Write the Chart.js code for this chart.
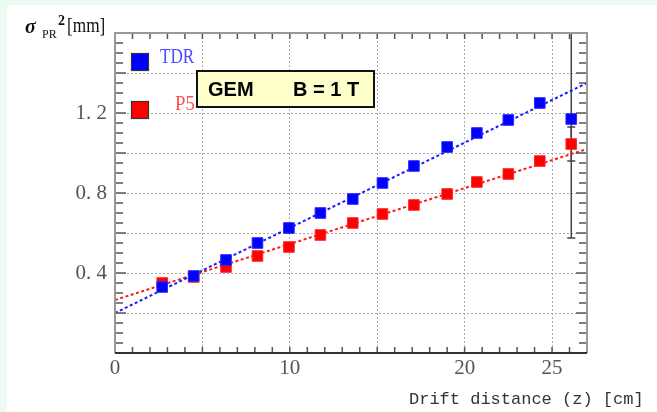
<!DOCTYPE html>
<html>
<head>
<meta charset="utf-8">
<script src="https://cdn.jsdelivr.net/npm/chart.js@4/dist/chart.umd.min.js"></script>
<style>
  html, body { margin: 0; padding: 0; background: #ecfaf1; }
  #wrap { position: absolute; left: 7px; top: 5px; width: 650px; height: 407px; background: #fff; }
</style>
</head>
<body>
<div id="wrap"><canvas id="myChart" width="650" height="407"></canvas></div>
<script>
// drift distance [cm] of each measured point
const drift = [2.7, 4.5, 6.35, 8.15, 9.95, 11.75, 13.6, 15.3, 17.1, 19.0, 20.7, 22.5, 24.3, 26.1];
// sigma_PR^2 [mm^2]
const tdr = [0.33, 0.385, 0.465, 0.55, 0.625, 0.70, 0.77, 0.85, 0.935, 1.03, 1.10, 1.165, 1.25, 1.17];
const p5 = [0.35, 0.38, 0.43, 0.485, 0.53, 0.59, 0.65, 0.695, 0.74, 0.795, 0.855, 0.895, 0.96, 1.045];
const tdrErr = [0, 0, 0, 0, 0, 0, 0, 0, 0, 0, 0, 0, 0, 0.595];
const p5Err = [0, 0, 0, 0, 0, 0, 0, 0, 0, 0, 0, 0, 0, 0.085];
// linear fits, end points
const fitX = [0, 27];
const tdrFit = [0.20, 1.35];
const p5Fit = [0.265, 1.02];
// grid positions and the ones that get a label
const xGrid = [0, 5, 10, 15, 20, 25];
const yGrid = [0, 0.2, 0.4, 0.6, 0.8, 1.0, 1.2, 1.4, 1.6];
const xLabels = [0, 10, 20, 25];
const yLabels = [0.4, 0.8, 1.2];

const toPts = (xs, ys) => xs.map((x, i) => ({ x: x, y: ys[i] }));

// error bars (kept inside the frame), minor ticks, frame, legend, titles
const decor = {
	id: "decor",
	beforeDatasetsDraw(chart) {
		const { ctx, chartArea: a, scales: { x, y } } = chart;
		const clampY = (v) => Math.min(a.bottom, Math.max(a.top, y.getPixelForValue(v)));
		ctx.save();
		ctx.strokeStyle = "#444";
		ctx.lineWidth = 1.5;
		[[tdr, tdrErr], [p5, p5Err]].forEach(([vals, errs]) => {
			errs.forEach((e, i) => {
				if (!e) return;
				const px = x.getPixelForValue(drift[i]);
				const lo = clampY(vals[i] - e);
				const hi = clampY(vals[i] + e);
				ctx.beginPath();
				ctx.moveTo(px, lo);
				ctx.lineTo(px, hi);
				if (lo < a.bottom) {
					ctx.moveTo(px - 4, lo);
					ctx.lineTo(px + 4, lo);
				}
				if (hi > a.top) {
					ctx.moveTo(px - 4, hi);
					ctx.lineTo(px + 4, hi);
				}
				ctx.stroke();
			});
		});
		ctx.restore();
	},
	afterDraw(chart) {
		const { ctx, chartArea: a, scales: { x, y } } = chart;
		ctx.save();
		ctx.lineWidth = 1.5;
		ctx.strokeStyle = "#555";
		for (let v = 1; v < 27; v++) {
			const px = x.getPixelForValue(v);
			ctx.beginPath();
			ctx.moveTo(px, a.bottom);
			ctx.lineTo(px, a.bottom - 6);
			ctx.moveTo(px, a.top);
			ctx.lineTo(px, a.top + 6);
			ctx.stroke();
		}
		for (let k = 1; k < 32; k++) {
			const py = y.getPixelForValue(k * 0.05);
			const len = k % 4 === 0 ? 11 : 8;
			ctx.beginPath();
			ctx.moveTo(a.left, py);
			ctx.lineTo(a.left + len, py);
			ctx.moveTo(a.right, py);
			ctx.lineTo(a.right - len, py);
			ctx.stroke();
		}
		// frame
		ctx.lineWidth = 2;
		ctx.strokeStyle = "#999";
		ctx.beginPath();
		ctx.moveTo(a.left, a.bottom);
		ctx.lineTo(a.left, a.top);
		ctx.lineTo(a.right, a.top);
		ctx.lineTo(a.right, a.bottom);
		ctx.stroke();
		ctx.strokeStyle = "#333";
		ctx.beginPath();
		ctx.moveTo(a.left, a.bottom);
		ctx.lineTo(a.right, a.bottom);
		ctx.stroke();

		// legend
		const sq = (cx, cy, col) => {
			ctx.fillStyle = col;
			ctx.fillRect(cx - 8.5, cy - 8.5, 17, 17);
			ctx.lineWidth = 1.2;
			ctx.strokeStyle = "#333";
			ctx.strokeRect(cx - 8.5, cy - 8.5, 17, 17);
		};
		sq(133, 57, "#0000ff");
		sq(133, 105, "#ff0000");
		ctx.textBaseline = "middle";
		ctx.textAlign = "left";
		ctx.font = "22px 'Liberation Serif'";
		ctx.save();
		ctx.translate(153, 52);
		ctx.scale(0.78, 1);
		ctx.fillStyle = "#4a4aff";
		ctx.fillText("TDR", 0, 0);
		ctx.restore();
		ctx.save();
		ctx.translate(168, 99);
		ctx.scale(0.85, 1);
		ctx.fillStyle = "#ff5050";
		ctx.fillText("P5", 0, 0);
		ctx.restore();

		// GEM box
		ctx.fillStyle = "#ffffcc";
		ctx.fillRect(190, 66, 177, 36);
		ctx.lineWidth = 2;
		ctx.strokeStyle = "#111";
		ctx.strokeRect(190, 66, 177, 36);
		ctx.fillStyle = "#000";
		ctx.font = "bold 20px 'Liberation Sans'";
		ctx.fillText("GEM", 201, 85);
		ctx.fillText("B = 1 T", 286, 85);

		// y title
		ctx.fillStyle = "#111";
		ctx.textBaseline = "alphabetic";
		ctx.font = "italic bold 20px 'Liberation Serif'";
		ctx.fillText("\u03c3", 18, 28);
		ctx.font = "12px 'Liberation Serif'";
		ctx.fillText("PR", 35, 33);
		ctx.font = "bold 14px 'Liberation Serif'";
		ctx.fillText("2", 51, 20);
		ctx.save();
		ctx.translate(60, 27);
		ctx.scale(0.82, 1);
		ctx.font = "21px 'Liberation Serif'";
		ctx.fillText("[mm]", 0, 0);
		ctx.restore();

		// x title
		ctx.fillStyle = "#333";
		ctx.textBaseline = "middle";
		ctx.font = "17px 'Liberation Mono'";
		ctx.fillText("Drift distance (z) [cm]", 402, 394);
		ctx.restore();
	},
};

const myChart = new Chart(document.getElementById("myChart"), {
	type: "scatter",
	data: {
		datasets: [
			{
				label: "TDR",
				data: toPts(drift, tdr),
				backgroundColor: "#0000ff",
				borderColor: "#2a2aff",
				pointStyle: "rect",
				pointRadius: 7.5,
				borderWidth: 1,
				order: 0,
			},
			{
				label: "P5",
				data: toPts(drift, p5),
				backgroundColor: "#ff0000",
				borderColor: "#ff2a2a",
				pointStyle: "rect",
				pointRadius: 7.5,
				borderWidth: 1,
				order: 1,
			},
			{
				label: "TDR fit",
				data: toPts(fitX, tdrFit),
				showLine: true,
				pointRadius: 0,
				borderColor: "#1a1aff",
				borderWidth: 2,
				borderDash: [3, 2.5],
				order: 2,
			},
			{
				label: "P5 fit",
				data: toPts(fitX, p5Fit),
				showLine: true,
				pointRadius: 0,
				borderColor: "#ff1a1a",
				borderWidth: 2,
				borderDash: [3, 2.5],
				order: 3,
			},
		],
	},
	options: {
		responsive: false,
		animation: false,
		devicePixelRatio: 1,
		layout: { padding: { left: 58, top: 28, right: 70, bottom: 29 } },
		plugins: { legend: { display: false }, tooltip: { enabled: false } },
		scales: {
			x: {
				type: "linear",
				min: 0,
				max: 27,
				afterBuildTicks: (s) => {
					s.ticks = xGrid.map((v) => ({ value: v }));
				},
				afterFit: (s) => {
					s.height = 30;
				},
				ticks: {
					autoSkip: false,
					maxRotation: 0,
					padding: 3,
					color: "#555",
					font: { family: "'Liberation Serif'", size: 21 },
					callback: (v) => (xLabels.includes(v) ? String(v) : ""),
				},
				grid: {
					drawTicks: false,
					color: (c) => (c.tick && c.tick.value > 0 ? "#aaa" : "rgba(0,0,0,0)"),
				},
				border: { display: false, dash: [2, 2] },
			},
			y: {
				type: "linear",
				min: 0,
				max: 1.6,
				afterBuildTicks: (s) => {
					s.ticks = yGrid.map((v) => ({ value: v }));
				},
				afterFit: (s) => {
					s.width = 50;
				},
				ticks: {
					autoSkip: false,
					padding: 8,
					color: "#555",
					font: { family: "'Liberation Serif'", size: 21 },
					callback: (v) => (yLabels.includes(v) ? v.toFixed(1).replace(".", ". ") : ""),
				},
				grid: {
					drawTicks: false,
					color: (c) => (c.tick && c.tick.value > 0 && c.tick.value < 1.6 ? "#aaa" : "rgba(0,0,0,0)"),
				},
				border: { display: false, dash: [2, 2] },
			},
		},
	},
	plugins: [decor],
});
</script>
</body>
</html>
